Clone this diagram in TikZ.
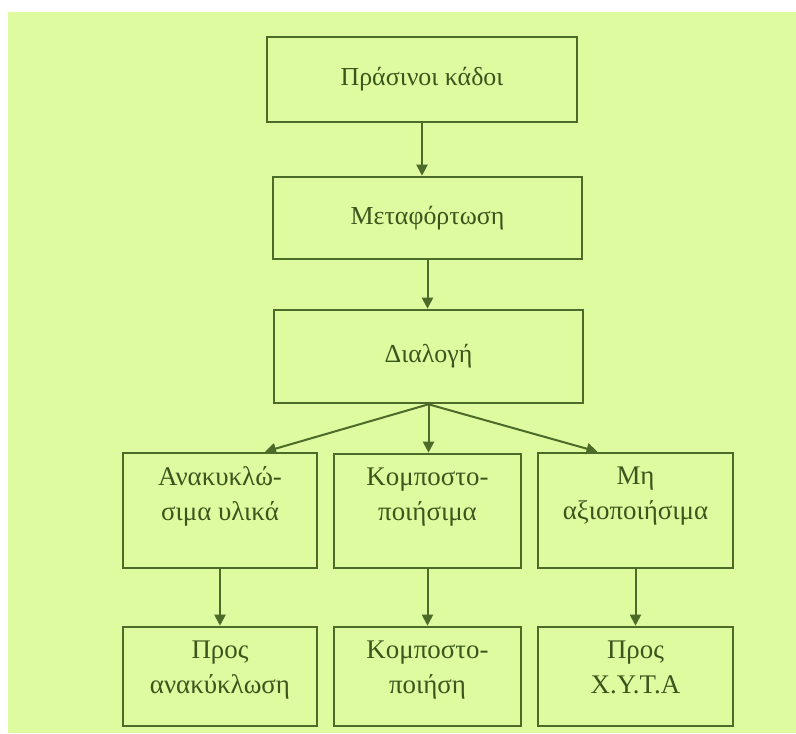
\documentclass[tikz,border=0pt]{standalone}
\usepackage{fontspec}
\setmainfont{Liberation Serif}
\usetikzlibrary{arrows.meta}
\definecolor{bggreen}{HTML}{DFFBA0}
\definecolor{linegreen}{HTML}{4C6A28}
\definecolor{textgreen}{HTML}{3A561C}
\tikzset{
  box/.style={draw=linegreen, line width=2.6bp, fill=bggreen, rectangle, inner sep=0pt},
  lbl/.style={text=textgreen, font=\fontsize{26}{35}\selectfont, align=center, inner sep=0pt},
  lbllow/.style={lbl, font=\fontsize{27}{35}\selectfont},
  conn/.style={draw=linegreen, line width=2bp, -{Triangle[width=11bp,length=11bp]}}
}
\begin{document}
\begin{tikzpicture}[x=1bp,y=-1bp]
\useasboundingbox (0,0) rectangle (796,734);
\fill[bggreen] (8,12) rectangle (796,733);
% boxes
\node[box, minimum width=310bp, minimum height=85bp] (b1) at (422,79.5) {};
\node[box, minimum width=309bp, minimum height=82bp] (b2) at (427.5,218) {};
\node[box, minimum width=309bp, minimum height=93bp] (b3) at (428.5,356.5) {};
\node[box, minimum width=194bp, minimum height=115bp] (a1) at (220,510.5) {};
\node[box, minimum width=187bp, minimum height=114bp] (m1) at (427.5,511) {};
\node[box, minimum width=195bp, minimum height=115bp] (c1) at (635.5,510.5) {};
\node[box, minimum width=194bp, minimum height=99bp] (a2) at (220,676.5) {};
\node[box, minimum width=187bp, minimum height=99bp] (m2) at (427.5,676.5) {};
\node[box, minimum width=195bp, minimum height=99bp] (c2) at (635.5,676.5) {};
% texts
\node[lbl] (t1) at (b1) {Πράσινοι κάδοι};
\node[lbl] (t2) at (b2) {Μεταφόρτωση};
\node[lbl] (t3) at (b3) {Διαλογή};
\node[lbllow, anchor=north] (ta1) at ([yshift=-15bp]a1.north) {Ανακυκλώ-\\σιμα υλικά};
\node[lbllow, anchor=north] (tm1) at ([yshift=-15bp]m1.north) {Κομποστο-\\ποιήσιμα};
\node[lbllow, anchor=north] (tc1) at ([yshift=-15bp]c1.north) {Μη\\αξιοποιήσιμα};
\node[lbllow, anchor=north] (ta2) at ([yshift=-15bp]a2.north) {Προς\\ανακύκλωση};
\node[lbllow, anchor=north] (tm2) at ([yshift=-15bp]m2.north) {Κομποστο-\\ποιήση};
\node[lbllow, anchor=north] (tc2) at ([yshift=-15bp]c2.north) {Προς\\Χ.Υ.Τ.Α};
% connectors
\draw[conn] (b1.south) -- (b1.south |- b2.north);
\draw[conn] (b2.south) -- (b2.south |- b3.north);
\draw[conn] (b3.south) -- ([xshift=45bp]a1.north);
\draw[conn] (b3.south) -- (b3.south |- m1.north);
\draw[conn] (b3.south) -- ([xshift=-38bp]c1.north);
\draw[conn] (a1.south) -- (a2.north);
\draw[conn] (m1.south) -- (m2.north);
\draw[conn] (c1.south) -- (c2.north);
\end{tikzpicture}
\end{document}
